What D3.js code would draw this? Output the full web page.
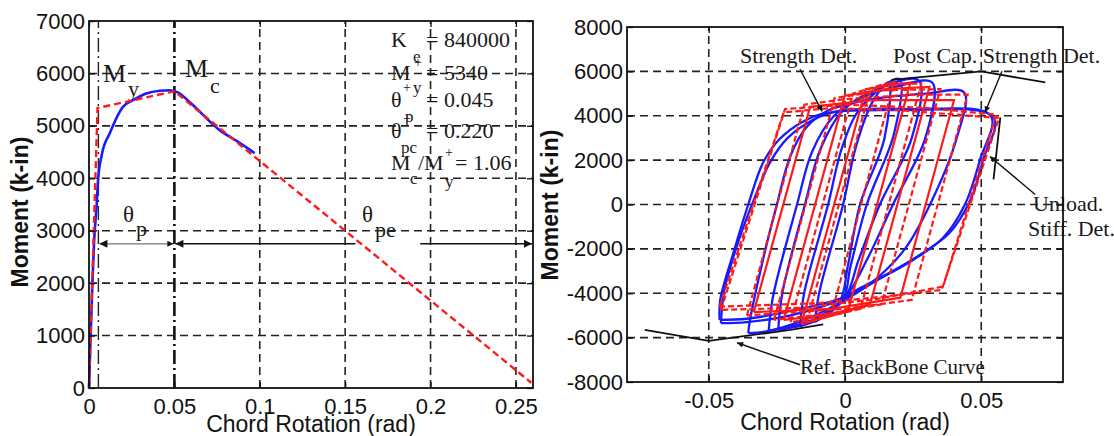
<!DOCTYPE html>
<html>
<head>
<meta charset="utf-8">
<script src="https://cdn.jsdelivr.net/npm/d3@7"></script>
<style>
  body { margin: 0; background: #fff; }
  svg { display: block; }
  .grid { stroke: #222; stroke-width: 1.6; stroke-dasharray: 8,5; fill: none; }
  .serif { font-family: "Liberation Serif", "Times New Roman", serif; fill: #1a1a1a; }
</style>
</head>
<body>
<script>
// ---- left panel: monotonic backbone, test vs model ----
var leftXTicks = [0, 0.05, 0.1, 0.15, 0.2, 0.25];
var leftYTicks = [0, 1000, 2000, 3000, 4000, 5000, 6000, 7000];

var testRot = [0, 0.0005, 0.001, 0.002, 0.003, 0.0045, 0.0053, 0.0075, 0.0121, 0.0199, 0.0258, 0.0336, 0.0414, 0.047, 0.052, 0.06, 0.0765, 0.088, 0.097];
var testMom = [0, 500, 1000, 2000, 2800, 3500, 3960, 4450, 4855, 5363, 5490, 5618, 5670, 5680, 5640, 5420, 4918, 4680, 4480];

var modelRot = [0, 0.005, 0.05, 0.259];
var modelMom = [0, 5340, 5660, 100];

var thetaY = 0.0055, thetaC = 0.05, thetaEnd = 0.26, arrowMom = 2750;

// ---- right panel: cyclic response ----
var rightXTicks = [-0.05, 0, 0.05];
var rightYTicks = [-8000, -6000, -4000, -2000, 0, 2000, 4000, 6000, 8000];

// test loops (blue)
var expLoop1 = [[-0.046,-5200],[-0.0458,-4300],[-0.041,-2200],[-0.0355,0],[-0.030,1900],[-0.024,2950],[-0.016,3700],[-0.008,4100],[0.02,4250],[0.0545,3930],[0.0507,2030],[0.046,200],[0.0385,-1260],[0.0287,-2170],[0.0165,-3070],[0.0044,-3840],[-0.002,-4250],[-0.02,-4800],[-0.036,-5150],[-0.046,-5200]];
var expLoop2 = [[-0.0455,-5350],[-0.0445,-4000],[-0.0395,-1800],[-0.0335,200],[-0.0275,1900],[-0.021,3000],[-0.012,3800],[-0.003,4200],[0.025,4300],[0.0535,4000],[0.0495,2000],[0.044,0],[0.036,-1500],[0.025,-2500],[0.012,-3400],[0.001,-4150],[-0.02,-5000],[-0.036,-5300],[-0.0455,-5350]];
var expLoop3 = [[-0.0355,-5800],[-0.035,-5300],[-0.0305,-2700],[-0.025,0],[-0.02,2200],[-0.014,3500],[-0.006,4250],[0.01,4750],[0.03,5000],[0.0437,5050],[0.041,3000],[0.0312,0],[0.022,-2000],[0.01,-3500],[0.0,-4300],[-0.015,-5200],[-0.0288,-5720],[-0.0355,-5800]];
var expLoop4 = [[-0.028,-5700],[-0.0265,-4200],[-0.0176,0],[-0.012,2400],[-0.004,4000],[0.006,4800],[0.02,5350],[0.032,5500],[0.0295,3000],[0.0176,0],[0.008,-2500],[0.0,-4200],[-0.012,-5200],[-0.028,-5700]];
var expLoop5 = [[-0.0245,-5650],[-0.023,-4000],[-0.0147,0],[-0.009,2500],[-0.001,4200],[0.01,5100],[0.027,5600],[0.0245,3000],[0.0128,0],[0.005,-2500],[0.0,-4200],[-0.01,-5200],[-0.0245,-5650]];
var expLoop6 = [[-0.0165,-5500],[-0.015,-4000],[-0.0062,0],[-0.001,2600],[0.006,4400],[0.02,5650],[0.018,3200],[0.008,0],[0.002,-2800],[-0.001,-4300],[-0.0165,-5500]];
var expLoop7 = [[-0.011,-5300],[-0.0095,-4000],[-0.0007,0],[0.004,2600],[0.01,4600],[0.016,5500],[0.0145,3000],[0.0055,0],[0.001,-2800],[-0.002,-4400],[-0.011,-5300]];

// model loops, dashed (red)
var modLoop1 = [[-0.046,-4600],[-0.0225,4150],[-0.005,4350],[0.02,4250],[0.0565,3900],[0.0355,-3850],[0.014,-4150],[-0.01,-4450],[-0.046,-4600]];
var modLoop2 = [[-0.0455,-4750],[-0.022,4300],[0.0,4500],[0.03,4350],[0.0555,4050],[0.036,-3700],[0.012,-4250],[-0.015,-4650],[-0.0455,-4750]];
var modLoop3 = [[-0.036,-5000],[-0.0149,4500],[0.0,4750],[0.025,4950],[0.045,4950],[0.0245,-4300],[0.0,-4700],[-0.036,-5000]];
var modLoop4 = [[-0.026,-5200],[-0.0038,4800],[0.015,5150],[0.035,5200],[0.0134,-4500],[-0.005,-4900],[-0.026,-5200]];
var modLoop5 = [[-0.02,-5300],[0.0029,5000],[0.015,5450],[0.028,5450],[0.0057,-4700],[-0.008,-5100],[-0.02,-5300]];
var modLoop6 = [[-0.014,-5300],[0.0093,5200],[0.018,5500],[-0.0049,-4900],[-0.014,-5300]];
// model loops, solid (red)
var modSolid1 = [[-0.0335,-4850],[-0.0128,4400],[0.01,4700],[0.04,4700],[0.0203,-4200],[-0.005,-4700],[-0.0335,-4850]];
var modSolid2 = [[-0.0225,-5200],[-0.0001,4900],[0.015,5200],[0.031,5300],[0.0092,-4500],[-0.005,-4950],[-0.0225,-5200]];
var modSolid3 = [[-0.016,-5400],[0.0076,5200],[0.024,5500],[0.0011,-4800],[-0.016,-5400]];

// reference backbone (black)
var backbonePos = [[0.017,5620],[0.05,6000],[0.0735,5500]];
var backboneNeg = [[-0.0735,-5650],[-0.05,-6150],[-0.02,-5650],[-0.008,-5400]];
var unloadRef = [[0.057,3930],[0.0545,1130]];

var svg = d3.select("body").append("svg").attr("width", 1114).attr("height", 436);

var defs = svg.append("defs");
defs.append("marker").attr("id", "ah").attr("viewBox", "0 0 10 10")
    .attr("refX", 10).attr("refY", 5).attr("markerWidth", 12).attr("markerHeight", 8)
    .attr("markerUnits", "userSpaceOnUse").attr("orient", "auto-start-reverse")
    .append("path").attr("d", "M0,0L10,5L0,10z").attr("fill", "#111");
defs.append("marker").attr("id", "ahs").attr("viewBox", "0 0 10 10")
    .attr("refX", 10).attr("refY", 5).attr("markerWidth", 9).attr("markerHeight", 6)
    .attr("markerUnits", "userSpaceOnUse").attr("orient", "auto-start-reverse")
    .append("path").attr("d", "M0,0L10,5L0,10z").attr("fill", "#111");

function txt(g, s, x, y, size, cls) {
    return g.append("text").attr("class", cls || "serif").attr("x", x).attr("y", y)
        .attr("font-size", size).text(s);
}

// one line of the parameter block: parts are [text, x, y, size]
function richLine(g, parts) {
    var t = g.append("text").attr("class", "serif");
    parts.forEach(function (p) {
        t.append("tspan").attr("x", p[1]).attr("y", p[2]).attr("font-size", p[3]).text(p[0]);
    });
    return t;
}

function gridLines(g, x, y, gx, gy) {
    var r = x.range(), t = y.range();
    g.selectAll(null).data(gy).enter().append("line").attr("class", "grid")
        .attr("x1", r[0]).attr("x2", r[1]).attr("y1", function (d) { return y(d); }).attr("y2", function (d) { return y(d); });
    g.selectAll(null).data(gx).enter().append("line").attr("class", "grid")
        .attr("y1", t[0]).attr("y2", t[1]).attr("x1", function (d) { return x(d); }).attr("x2", function (d) { return x(d); });
}

function frame(g, x, y, xt, yt) {
    var r = x.range(), t = y.range();
    function style(a) {
        a.select(".domain").remove();
        a.attr("font-family", "'Liberation Sans', Arial, sans-serif").attr("font-size", 22);
        a.selectAll("line").attr("stroke", "#111").attr("stroke-width", 1.3);
        a.selectAll("text").attr("fill", "#111");
    }
    g.append("g").attr("transform", "translate(0," + t[0] + ")")
        .call(d3.axisBottom(x).tickValues(xt).tickSize(-6).tickPadding(10).tickFormat(String)).call(style);
    g.append("g").attr("transform", "translate(" + r[0] + ",0)")
        .call(d3.axisLeft(y).tickValues(yt).tickSize(-6).tickPadding(4).tickFormat(String)).call(style);
    g.append("g").attr("transform", "translate(0," + t[1] + ")")
        .call(d3.axisTop(x).tickValues(xt).tickSize(-6).tickFormat("")).call(style);
    g.append("g").attr("transform", "translate(" + r[1] + ",0)")
        .call(d3.axisRight(y).tickValues(yt).tickSize(-6).tickFormat("")).call(style);
    g.append("rect").attr("x", r[0]).attr("y", t[1]).attr("width", r[1] - r[0]).attr("height", t[0] - t[1])
        .attr("fill", "none").attr("stroke", "#111").attr("stroke-width", 1.8);
}

function titles(g, x, ybase, yx, yy) {
    g.append("text").attr("x", x).attr("y", ybase).attr("text-anchor", "middle")
        .attr("font-family", "'Liberation Sans', Arial, sans-serif").attr("font-size", 23).attr("fill", "#111")
        .text("Chord Rotation (rad)");
    g.append("text").attr("transform", "translate(" + yx + "," + yy + ") rotate(-90)").attr("text-anchor", "middle")
        .attr("font-family", "'Liberation Sans', Arial, sans-serif").attr("font-size", 23).attr("font-weight", "bold").attr("fill", "#111")
        .text("Moment (k-in)");
}

// ===== left panel =====
var xL = d3.scaleLinear().domain([0, 0.26]).range([89, 533]);
var yL = d3.scaleLinear().domain([0, 7000]).range([388, 21]);
var gL = svg.append("g");
var lineL = d3.line().x(function (d) { return xL(d[0]); }).y(function (d) { return yL(d[1]); });

// annotations
richLine(gL, [["M", 103, 82, 26], ["y", 128, 96, 22]]);
richLine(gL, [["M", 185, 77, 26], ["c", 210, 93, 22]]);
richLine(gL, [["θ", 123, 222, 23], ["p", 136, 236, 22]]);
richLine(gL, [["θ", 362, 222, 23], ["pe", 375, 237, 22]]);
richLine(gL, [["K", 391, 47, 22], ["e", 413, 62, 17], ["= 840000", 426, 47, 22]]);
richLine(gL, [["M", 391, 80, 22], ["+", 414, 67, 14], ["y", 413, 93, 17], ["= 5340", 426, 80, 22]]);
richLine(gL, [["θ", 391, 107, 22], ["+", 403, 92, 14], ["p", 405, 122, 17], ["= 0.045", 426, 107, 22]]);
richLine(gL, [["θ", 391, 138, 22], ["+", 403, 123, 14], ["pc", 401, 153, 17], ["= 0.220", 426, 138, 22]]);
richLine(gL, [["M", 391, 170, 22], ["c", 410, 184, 17], ["/M", 418, 170, 22], ["+", 445, 157, 14], ["y", 445, 187, 17], ["= 1.06", 455, 170, 22]]);

gridLines(gL, xL, yL, [0.1, 0.15, 0.2, 0.25], [1000, 2000, 3000, 4000, 5000, 6000]);
gL.append("line").attr("x1", xL(thetaY)).attr("x2", xL(thetaY)).attr("y1", yL(0)).attr("y2", yL(7000))
    .attr("stroke", "#222").attr("stroke-width", 1.4).attr("stroke-dasharray", "14,4,2,4");
gL.append("line").attr("x1", xL(thetaC)).attr("x2", xL(thetaC)).attr("y1", yL(0)).attr("y2", yL(7000))
    .attr("stroke", "#111").attr("stroke-width", 2.6).attr("stroke-dasharray", "14,4,2,4");

// theta arrows
gL.append("line").attr("x1", xL(thetaY) + 1).attr("x2", xL(thetaC) - 1).attr("y1", yL(arrowMom)).attr("y2", yL(arrowMom))
    .attr("stroke", "#777").attr("stroke-width", 1.3)
    .attr("marker-start", "url(#ah)").attr("marker-end", "url(#ahs)");
gL.append("line").attr("x1", xL(thetaC) + 1).attr("x2", xL(0.156)).attr("y1", yL(arrowMom)).attr("y2", yL(arrowMom))
    .attr("stroke", "#111").attr("stroke-width", 1.5).attr("marker-start", "url(#ah)");
gL.append("line").attr("x1", xL(0.194)).attr("x2", xL(thetaEnd) - 1).attr("y1", yL(arrowMom)).attr("y2", yL(arrowMom))
    .attr("stroke", "#111").attr("stroke-width", 1.5).attr("marker-end", "url(#ah)");

gL.append("path").datum(d3.zip(testRot, testMom)).attr("d", lineL.curve(d3.curveMonotoneX))
    .attr("fill", "none").attr("stroke", "#1a1aff").attr("stroke-width", 2.6);
gL.append("path").datum(d3.zip(modelRot, modelMom)).attr("d", d3.line().x(function (d) { return xL(d[0]); }).y(function (d) { return yL(d[1]); }))
    .attr("fill", "none").attr("stroke", "#ff1a1a").attr("stroke-width", 2.4).attr("stroke-dasharray", "7,4");

frame(gL, xL, yL, leftXTicks, leftYTicks);
titles(gL, 311, 432, 28, 212);

// ===== right panel =====
var xR = d3.scaleLinear().domain([-0.08, 0.08]).range([627, 1063]);
var yR = d3.scaleLinear().domain([-8000, 8000]).range([382, 27]);
var gR = svg.append("g");
var lineR = d3.line().x(function (d) { return xR(d[0]); }).y(function (d) { return yR(d[1]); });
var curveR = d3.line().x(function (d) { return xR(d[0]); }).y(function (d) { return yR(d[1]); })
    .curve(d3.curveCatmullRom.alpha(0.5));

txt(gR, "Strength Det.", 740, 63, 22);
txt(gR, "Post Cap. Strength Det.", 893, 63, 22);
txt(gR, "Unload.", 1033, 211, 22);
txt(gR, "Stiff. Det.", 1028, 236, 22);
txt(gR, "Ref. BackBone Curve", 800, 374, 21);

gridLines(gR, xR, yR, [-0.05, 0, 0.05], [-6000, -4000, -2000, 0, 2000, 4000, 6000]);

[expLoop1, expLoop2, expLoop3, expLoop4, expLoop5, expLoop6, expLoop7].forEach(function (loop) {
    gR.append("path").datum(loop).attr("d", curveR).attr("fill", "none")
        .attr("stroke", "#1a1aff").attr("stroke-width", 2.3).attr("stroke-linejoin", "round");
});
[modSolid1, modSolid2, modSolid3].forEach(function (loop) {
    gR.append("path").datum(loop).attr("d", lineR).attr("fill", "none")
        .attr("stroke", "#ff1a1a").attr("stroke-width", 2.2);
});
[modLoop1, modLoop2, modLoop3, modLoop4, modLoop5, modLoop6].forEach(function (loop) {
    gR.append("path").datum(loop).attr("d", lineR).attr("fill", "none")
        .attr("stroke", "#ff1a1a").attr("stroke-width", 2.2).attr("stroke-dasharray", "6,3");
});

[backbonePos, backboneNeg, unloadRef].forEach(function (seg) {
    gR.append("path").datum(seg).attr("d", lineR).attr("fill", "none").attr("stroke", "#111").attr("stroke-width", 1.8);
});

// pointer arrows
var pointers = [
    [[-0.0165, 6095], [-0.0084, 4199]],
    [[0.0576, 6005], [0.0514, 4154]],
    [[0.0698, 451], [0.0532, 2167]],
    [[-0.0165, -7224], [-0.0396, -6231]]
];
pointers.forEach(function (p) {
    gR.append("line").attr("x1", xR(p[0][0])).attr("y1", yR(p[0][1])).attr("x2", xR(p[1][0])).attr("y2", yR(p[1][1]))
        .attr("stroke", "#111").attr("stroke-width", 1.4).attr("marker-end", "url(#ahs)");
});

frame(gR, xR, yR, rightXTicks, rightYTicks);
titles(gR, 845, 430, 558, 205);
</script>
</body>
</html>
